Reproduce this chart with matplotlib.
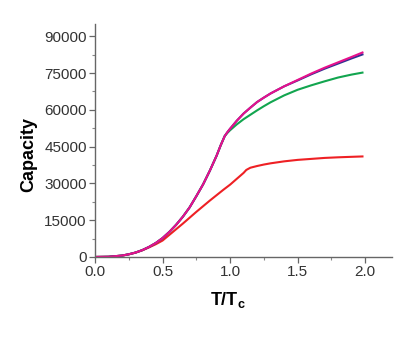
import matplotlib
matplotlib.use('Agg')
import matplotlib.pyplot as plt
from matplotlib.ticker import MultipleLocator

plt.rcParams['font.family'] = ['Liberation Sans', 'DejaVu Sans']
plt.rcParams['mathtext.fontset'] = 'custom'
plt.rcParams['mathtext.rm'] = 'Liberation Sans'
plt.rcParams['mathtext.bf'] = 'Liberation Sans:bold'

# red curve
x_red = [0, 0.1, 0.2, 0.25, 0.3, 0.35, 0.4, 0.45, 0.5, 0.55, 0.6, 0.65, 0.7,
         0.75, 0.8, 0.85, 0.9, 0.95, 1.0, 1.05, 1.1, 1.12, 1.15, 1.2, 1.25,
         1.3, 1.4, 1.5, 1.6, 1.7, 1.8, 1.9, 1.98]
y_red = [0, 80, 550, 1050, 1750, 2700, 3900, 5200, 6700, 9000, 11300, 13600,
         16000, 18400, 20700, 23000, 25200, 27400, 29500, 31900, 34300, 35500,
         36400, 37100, 37700, 38200, 39000, 39600, 40000, 40400, 40650, 40850,
         41000]

# upper curves
x_up = [0, 0.1, 0.2, 0.25, 0.3, 0.35, 0.4, 0.45, 0.5, 0.55, 0.6, 0.65, 0.7,
        0.75, 0.8, 0.85, 0.9, 0.93, 0.96, 0.98, 1.0, 1.05, 1.1, 1.15, 1.2,
        1.25, 1.3, 1.4, 1.5, 1.6, 1.7, 1.8, 1.9, 1.98]
y_green = [0, 80, 570, 1100, 1800, 2800, 4100, 5700, 7700, 10200, 13100,
           16400, 20200, 24800, 29600, 35200, 41300, 45500, 49300, 50600,
           51700, 54100, 56200, 58000, 59800, 61500, 63100, 65900, 68200,
           70000, 71650, 73200, 74400, 75200]
y_blue = [0, 80, 570, 1100, 1800, 2800, 4100, 5700, 7700, 10200, 13100,
          16400, 20200, 24800, 29600, 35200, 41300, 45500, 49300, 50900,
          52300, 55600, 58500, 60900, 63200, 65000, 66700, 69600, 72000,
          74500, 76800, 78900, 81000, 82600]
y_magenta = [0, 80, 570, 1100, 1800, 2800, 4100, 5700, 7700, 10200, 13100,
             16400, 20200, 24800, 29600, 35200, 41300, 45500, 49300, 50900,
             52300, 55600, 58500, 60900, 63200, 65000, 66700, 69600, 72200,
             74800, 77200, 79400, 81600, 83400]

fig = plt.figure(figsize=(4.15, 3.39), dpi=100)
ax = fig.add_axes([0.229, 0.242, 0.716, 0.687])

ax.plot(x_red, y_red, color='#ee2024', lw=1.5)
ax.plot(x_up, y_green, color='#12a54f', lw=1.5)
ax.plot(x_up, y_blue, color='#2e3192', lw=1.5)
ax.plot(x_up, y_magenta, color='#e6118c', lw=1.5)

ax.set_xlim(0, 2.2)
ax.set_ylim(0, 95000)
ax.xaxis.set_major_locator(MultipleLocator(0.5))
ax.xaxis.set_minor_locator(MultipleLocator(0.25))
ax.yaxis.set_major_locator(MultipleLocator(15000))
ax.yaxis.set_minor_locator(MultipleLocator(7500))
ax.set_xticks([0, 0.5, 1.0, 1.5, 2.0])
ax.set_xticklabels(['0.0', '0.5', '1.0', '1.5', '2.0'])

for s in ['top', 'right']:
    ax.spines[s].set_visible(False)
for s in ['left', 'bottom']:
    ax.spines[s].set_color('#666666')
    ax.spines[s].set_linewidth(1.0)

ax.tick_params(which='major', length=4, width=0.9, color='#666666',
               labelsize=11, labelcolor='#333333', pad=2)
ax.tick_params(which='minor', length=2.5, width=0.8, color='#888888')

ax.set_xlabel(r'$\mathbf{T/T_c}$', fontsize=13)
ax.xaxis.set_label_coords(0.446, -0.142)
ax.set_ylabel('Capacity', fontsize=13, fontweight='bold')
ax.yaxis.set_label_coords(-0.195, 0.44)

fig.savefig('out.png', dpi=100)
